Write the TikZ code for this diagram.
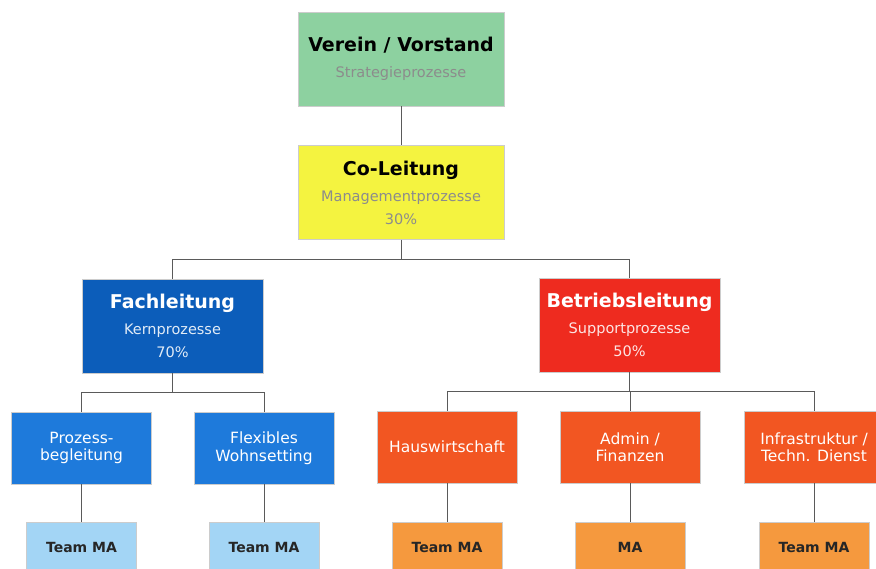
\documentclass[tikz,border=0pt]{standalone}
\usepackage{fontspec}
\setmainfont{DejaVu Sans}
\definecolor{cgreen}{HTML}{8DD1A0}
\definecolor{cyellow}{HTML}{F4F340}
\definecolor{cfach}{HTML}{0C5DBA}
\definecolor{cbetr}{HTML}{EE2B1F}
\definecolor{cchb}{HTML}{1E7ADB}
\definecolor{ccho}{HTML}{F25622}
\definecolor{cteamb}{HTML}{A3D5F5}
\definecolor{cteamo}{HTML}{F5993E}
\definecolor{csub}{HTML}{8C8C8C}
\definecolor{cline}{HTML}{5A5A5A}
\tikzset{
  box/.style={rectangle, inner sep=0pt, align=center, draw=black!20, line width=0.4pt},
  topbox/.style={box, minimum width=206pt, minimum height=94pt, font=\fontsize{14.5}{23}\selectfont},
  midbox/.style={box, minimum width=181pt, minimum height=94pt, text=white, font=\fontsize{14.5}{23}\selectfont},
  childbox/.style={box, minimum width=140pt, minimum height=72pt, text=white, font=\fontsize{15.5}{17.5}\selectfont},
  teambox/.style={box, minimum width=110pt, minimum height=50pt, text=black!85, font=\bfseries\fontsize{14}{16}\selectfont},
  conn/.style={draw=cline, line width=0.8pt},
}
\newcommand{\ttlfont}{\bfseries\fontsize{19}{23}\selectfont}
\begin{document}
\begin{tikzpicture}[x=1pt,y=-1pt]
\useasboundingbox (0,0) rectangle (876,568);
\clip (0,0) rectangle (876,568);
\fill[white] (0,0) rectangle (876,568);
\node[topbox, fill=cgreen] (ver) at (401,59) {{\ttlfont Verein / Vorstand}\\[3pt]{\color{csub}Strategieprozesse}};
\node[topbox, fill=cyellow] (co) at (401,192.5) {{\ttlfont Co-Leitung}\\[3pt]{\color{csub}Managementprozesse}\\{\color{csub}30\%}};
\node[midbox, fill=cfach] (fach) at (172.5,326) {{\ttlfont Fachleitung}\\[3pt]{\color{white!88!cfach}Kernprozesse}\\{\color{white!88!cfach}70\%}};
\node[midbox, fill=cbetr] (betr) at (629.5,325) {{\ttlfont Betriebsleitung}\\[3pt]{\color{white!88!cbetr}Supportprozesse}\\{\color{white!88!cbetr}50\%}};
\node[childbox, fill=cchb] (proz) at (81.5,448) {Prozess-\\begleitung};
\node[childbox, fill=cchb] (flex) at (264,448) {Flexibles\\Wohnsetting};
\node[childbox, fill=ccho] (haus) at (447,447) {Hauswirtschaft};
\node[childbox, fill=ccho] (admin) at (630,447) {Admin /\\Finanzen};
\node[childbox, fill=ccho] (infra) at (814,447) {Infrastruktur /\\Techn. Dienst};
\node[teambox, fill=cteamb] (t1) at (81.5,547) {Team MA};
\node[teambox, fill=cteamb] (t2) at (264,547) {Team MA};
\node[teambox, fill=cteamo] (t3) at (447,547) {Team MA};
\node[teambox, fill=cteamo] (t4) at (630,547) {MA};
\node[teambox, fill=cteamo] (t5) at (814,547) {Team MA};
\draw[conn] (ver.south) -- (co.north);
\draw[conn] (co.south) -- ++(0,20) coordinate (j1);
\draw[conn] (j1) -| (fach.north);
\draw[conn] (j1) -| (betr.north);
\draw[conn] (fach.south) -- ++(0,19) coordinate (j2);
\draw[conn] (j2) -| (proz.north);
\draw[conn] (j2) -| (flex.north);
\draw[conn] (betr.south) -- ++(0,19) coordinate (j3);
\draw[conn] (j3) -| (haus.north);
\draw[conn] (j3) -| (admin.north);
\draw[conn] (j3) -| (infra.north);
\draw[conn] (proz.south) -- (t1.north);
\draw[conn] (flex.south) -- (t2.north);
\draw[conn] (haus.south) -- (t3.north);
\draw[conn] (admin.south) -- (t4.north);
\draw[conn] (infra.south) -- (t5.north);
\end{tikzpicture}
\end{document}
